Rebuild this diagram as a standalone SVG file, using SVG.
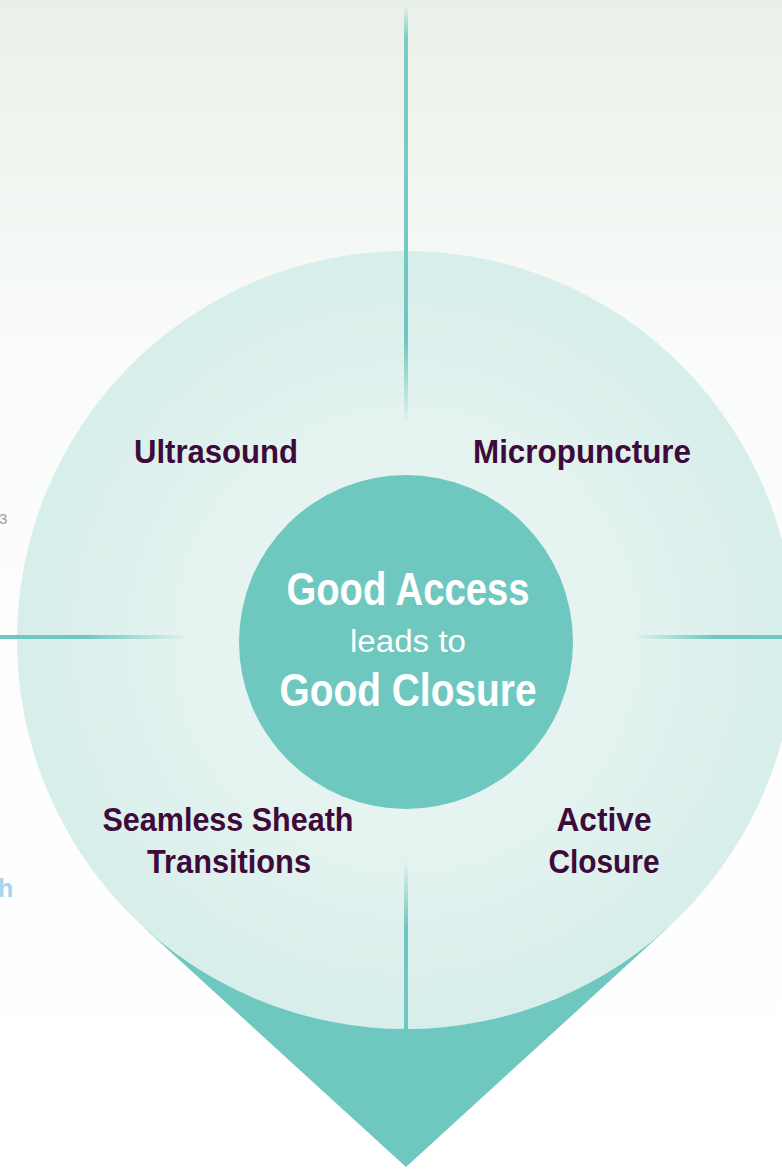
<svg xmlns="http://www.w3.org/2000/svg" width="782" height="1169" viewBox="0 0 782 1169">
<defs>
<linearGradient id="bg" x1="0" y1="0" x2="0" y2="1">
<stop offset="0" stop-color="#e9f0e9"/>
<stop offset="0.31" stop-color="#fafcfa"/>
<stop offset="1" stop-color="#ffffff"/>
</linearGradient>
<radialGradient id="big" cx="406" cy="640" r="389" gradientUnits="userSpaceOnUse">
<stop offset="0" stop-color="#eef7f5"/>
<stop offset="0.55" stop-color="#e4f3f0"/>
<stop offset="1" stop-color="#d7eeea"/>
</radialGradient>
<linearGradient id="vTop" x1="0" y1="0" x2="0" y2="1">
<stop offset="0" stop-color="#6ec8bf" stop-opacity="0"/>
<stop offset="0.08" stop-color="#6ec8bf" stop-opacity="0.9"/>
<stop offset="0.8" stop-color="#6ec8bf" stop-opacity="1"/>
<stop offset="1" stop-color="#6ec8bf" stop-opacity="0"/>
</linearGradient>
<linearGradient id="vBot" x1="0" y1="0" x2="0" y2="1">
<stop offset="0" stop-color="#6ec8bf" stop-opacity="0"/>
<stop offset="0.4" stop-color="#6ec8bf" stop-opacity="1"/>
<stop offset="1" stop-color="#6ec8bf" stop-opacity="1"/>
</linearGradient>
<linearGradient id="hL" x1="0" y1="0" x2="1" y2="0">
<stop offset="0" stop-color="#6ec8bf" stop-opacity="1"/>
<stop offset="0.45" stop-color="#6ec8bf" stop-opacity="1"/>
<stop offset="1" stop-color="#6ec8bf" stop-opacity="0"/>
</linearGradient>
<linearGradient id="hR" x1="0" y1="0" x2="1" y2="0">
<stop offset="0" stop-color="#6ec8bf" stop-opacity="0"/>
<stop offset="0.55" stop-color="#6ec8bf" stop-opacity="1"/>
<stop offset="1" stop-color="#6ec8bf" stop-opacity="1"/>
</linearGradient>
</defs>
<style>
.lbl{font-family:"Liberation Sans",Arial,sans-serif;font-weight:bold;font-size:33px;fill:#3e0a3a;text-anchor:middle}
.ctr{font-family:"Liberation Sans",Arial,sans-serif;fill:#ffffff;text-anchor:middle}
</style>
<rect width="782" height="1169" fill="url(#bg)"/>
<text x="-1" y="524" font-family="Liberation Sans, Arial, sans-serif" font-size="15" fill="#9a9a9a">3</text>
<text x="-2" y="897" font-family="Liberation Sans, Arial, sans-serif" font-size="25" font-weight="bold" fill="#a9d4ee">h</text>
<g id="pin">
<polygon points="143.6,927.3 406,1167 668.4,927.3 406,1029" fill="#6ec8bf"/>
<circle cx="406" cy="640" r="389" fill="url(#big)"/>
</g>
<g id="connectors">
<rect x="404" y="5" width="4" height="418" fill="url(#vTop)"/>
<rect x="404" y="860" width="4" height="170" fill="url(#vBot)"/>
<rect x="0" y="635" width="188" height="4" fill="url(#hL)"/>
<rect x="633" y="635" width="149" height="4" fill="url(#hR)"/>
</g>
<g id="center">
<circle cx="406" cy="642" r="167" fill="#6ec8bf"/>
<text class="ctr" x="408" y="605" font-size="46" font-weight="bold" textLength="243" lengthAdjust="spacingAndGlyphs">Good Access</text>
<text class="ctr" x="408" y="652" font-size="31" textLength="116" lengthAdjust="spacingAndGlyphs">leads to</text>
<text class="ctr" x="408" y="706" font-size="46" font-weight="bold" textLength="257" lengthAdjust="spacingAndGlyphs">Good Closure</text>
</g>
<g id="ultrasound"><text class="lbl" x="216" y="463" textLength="164" lengthAdjust="spacingAndGlyphs">Ultrasound</text></g>
<g id="micropuncture"><text class="lbl" x="582" y="463" textLength="218" lengthAdjust="spacingAndGlyphs">Micropuncture</text></g>
<g id="seamless"><text class="lbl" x="228" y="831" textLength="251" lengthAdjust="spacingAndGlyphs">Seamless Sheath</text><text class="lbl" x="229" y="873" textLength="164" lengthAdjust="spacingAndGlyphs">Transitions</text></g>
<g id="active"><text class="lbl" x="604" y="831" textLength="95" lengthAdjust="spacingAndGlyphs">Active</text><text class="lbl" x="604" y="873" textLength="111" lengthAdjust="spacingAndGlyphs">Closure</text></g>
</svg>
